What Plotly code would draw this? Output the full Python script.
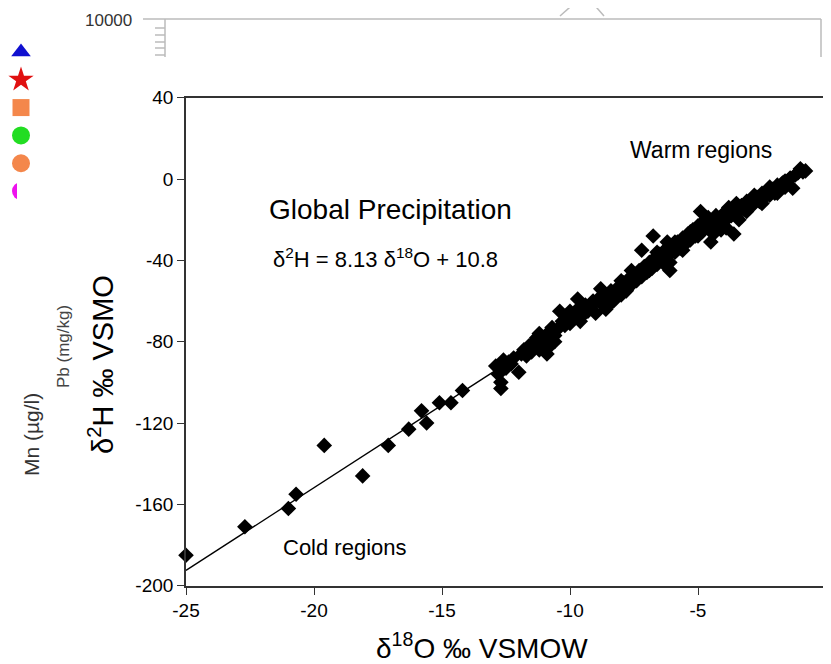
import plotly.graph_objects as go

# ---------------- data ----------------
d18O = [
    -25.0, -22.7, -21.0, -20.7, -19.6, -18.1, -17.1, -16.3, -15.8, -15.6, -15.1, -14.65, -14.2,
    -12.9, -12.8, -12.7, -12.7, -12.6, -12.5, -12.4, -12.3, -12.2, -12.0, -11.9, -11.8, -11.7,
    -11.6, -11.5, -11.4, -11.3, -11.2, -11.1, -11.0, -10.9, -10.85, -10.8, -10.7, -10.6, -10.5,
    -10.4, -10.3, -10.2, -10.1, -10.0, -9.9, -9.8, -9.7, -9.6, -9.5, -9.4, -9.3, -9.2, -9.1,
    -9.0, -8.9, -8.8, -8.7, -8.6, -8.5, -8.4, -8.3, -8.2, -8.1, -8.0, -7.9, -7.8, -7.7, -7.6,
    -7.5, -7.4, -7.3, -7.2, -7.2, -7.1, -7.0, -6.9, -6.8, -6.75, -6.7, -6.6, -6.5, -6.4, -6.3,
    -6.2, -6.1, -6.0, -5.9, -5.8, -5.7, -5.6, -5.5, -5.4, -5.3, -5.2, -5.1, -5.0, -4.9, -4.85,
    -4.8, -4.7, -4.6, -4.5, -4.4, -4.3, -4.2, -4.1, -4.0, -3.9, -3.8, -3.7, -3.6, -3.5, -3.4,
    -3.3, -3.2, -3.1, -3.0, -2.9, -2.8, -2.7, -2.6, -2.5, -2.4, -2.3, -2.2, -2.1, -2.0, -1.9,
    -1.8, -1.7, -1.6, -1.5, -1.4, -1.3, -1.2, -1.1, -1.0, -0.9, -0.8,
    -6.9, -6.6, -6.3, -5.9, -5.6, -5.3, -5.0, -4.7, -4.4, -4.1, -3.9, -3.7, -3.4, -3.1, -2.8,
    -2.5, -2.2, -1.9, -1.6, -8.8, -8.5, -9.7, -10.6, -11.2, -10.0, -7.6, -8.0, -6.2, -6.1,
]
d2H = [
    -185, -171, -162, -155, -131, -146, -131, -123, -114, -120, -110, -110, -104,
    -92, -96, -100, -103, -89, -93, -90, -91, -88, -95, -86, -84, -87,
    -82, -85, -80, -78, -76, -81, -79, -86, -83, -75, -73, -77, -74,
    -65, -70, -72, -68, -71, -69, -66, -64, -70, -67, -62, -65, -63, -60,
    -66, -59, -61, -57, -64, -58, -55, -60, -56, -53, -57, -51, -55, -49, -52,
    -47, -50, -45, -35, -48, -43, -46, -41, -44, -28, -39, -42, -37, -40, -35,
    -38, -41, -33, -36, -31, -34, -29, -32, -27, -30, -25, -28, -23, -16, -26,
    -21, -24, -19, -31, -22, -18, -21, -25, -17, -20, -14, -18, -27, -12, -16,
    -13, -15, -11, -14, -10, -12, -9, -11, -7, -9, -6, -8, -5, -7, -3,
    -5, -2, -4, -1, 0.5, -4.5, 2, 3, 5, 3.5, 4,
    -45, -36, -42, -31, -35, -26, -28, -20, -27, -19, -24, -15, -20, -16, -8,
    -12, -4, -7, -1, -54, -62, -59, -80, -84, -65, -45, -50, -31, -45,
]
slope, intercept = 8.13, 10.8
line_x = [-25.0, -1.0]
line_y = [slope * v + intercept for v in line_x]

x_ticks = [-25, -20, -15, -10, -5, 0]
y_ticks = [40, 0, -40, -80, -120, -160, -200]

# residue of a second figure's legend visible at the left edge
legend_index = [0, 1, 2, 3, 4, 5]
legend_symbols = ["triangle-up", "star", "square", "circle", "circle", "circle"]
legend_colors = ["#1010d0", "#e01010", "#f4874b", "#22dd22", "#f4874b", "#ee11ee"]

FONT = "Liberation Sans, Arial, sans-serif"
PAGE_W, PAGE_H = 831, 664
OFF = 8                       # default page margin around the figure
W, H = PAGE_W - OFF, PAGE_H - OFF
PL, PR, PT, PB = 186, 826, 97.7, 585.7   # plot-area edges in page pixels


def pxx(px):
    return (px - OFF) / W


def pyy(py):
    return (H - (py - OFF)) / H


fig = go.Figure()

fig.add_trace(go.Scatter(
    x=line_x, y=line_y, mode="lines",
    line=dict(color="black", width=1.3), showlegend=False, hoverinfo="skip",
))
fig.add_trace(go.Scatter(
    x=d18O, y=d2H, mode="markers", cliponaxis=False,
    marker=dict(symbol="diamond", size=12, color="black", line=dict(width=0)),
    showlegend=False,
))
fig.add_trace(go.Scatter(
    x=[0] * len(legend_index), y=legend_index, mode="markers", xaxis="x2", yaxis="y2",
    cliponaxis=False, showlegend=False, hoverinfo="skip",
    marker=dict(symbol=legend_symbols, size=[17, 19, 17, 18, 18, 18], color=legend_colors,
                opacity=1, line=dict(width=0)),
))

axis_common = dict(
    showgrid=False, zeroline=False, showline=True, linecolor="#333333", linewidth=1.6,
    mirror=True, ticks="outside", ticklen=7, tickwidth=1.3, tickcolor="#333333",
    tickfont=dict(family=FONT, size=19, color="black"), automargin=False,
)
fig.update_layout(
    xaxis=dict(range=[-25, 0], tickvals=x_ticks, ticktext=[str(v) for v in x_ticks],
               domain=[pxx(PL), pxx(PR)], anchor="y", **axis_common),
    yaxis=dict(range=[-200, 40], tickvals=y_ticks, ticktext=[str(v) for v in y_ticks],
               domain=[pyy(PB), pyy(PT)], anchor="x", **axis_common),
    xaxis2=dict(domain=[pxx(OFF), pxx(34)], range=[-1, 1], visible=False, anchor="y2"),
    yaxis2=dict(domain=[pyy(205), pyy(38)], range=[5.5, -0.5], visible=False, anchor="x2"),
)

annotations = [
    dict(text="Global Precipitation", x=pxx(390), y=pyy(209), font=dict(size=28)),
    dict(text="δ<sup>2</sup>H = 8.13 δ<sup>18</sup>O + 10.8", x=pxx(385), y=pyy(258), font=dict(size=22)),
    dict(text="Warm regions", x=pxx(701), y=pyy(150), font=dict(size=23)),
    dict(text="Cold regions", x=pxx(345), y=pyy(547), font=dict(size=22)),
    dict(text="δ<sup>18</sup>O ‰ VSMOW", x=pxx(482), y=pyy(646), font=dict(size=28)),
    dict(text="δ<sup>2</sup>H ‰ VSMO", x=pxx(101), y=pyy(365), font=dict(size=29), textangle=-90),
    dict(text="10000", x=pxx(108), y=pyy(20), font=dict(size=17, color="#333333")),
    dict(text="Mn (µg/l)", x=pxx(31), y=pyy(435), font=dict(size=21, color="#333333"), textangle=-90),
    dict(text="Pb (mg/kg)", x=pxx(63), y=pyy(347), font=dict(size=17, color="#444444"), textangle=-90),
]
for a in annotations:
    a.update(xref="paper", yref="paper", showarrow=False, xanchor="center", yanchor="middle")
    a["font"] = dict(family=FONT, color=a["font"].get("color", "black"), size=a["font"]["size"])

gray = dict(color="#bbbbbb", width=1.5)
shapes = [
    dict(type="line", x0=pxx(143), x1=pxx(821), y0=pyy(19), y1=pyy(19), line=gray),
    dict(type="line", x0=pxx(821), x1=pxx(821), y0=pyy(19), y1=pyy(57), line=gray),
    dict(type="line", x0=pxx(165), x1=pxx(165), y0=pyy(19), y1=pyy(57), line=gray),
    dict(type="line", x0=pxx(560), x1=pxx(578), y0=pyy(16), y1=pyy(0), line=gray),
    dict(type="line", x0=pxx(590), x1=pxx(604), y0=pyy(0), y1=pyy(16), line=gray),
    dict(type="rect", x0=pxx(17), x1=pxx(30), y0=pyy(180), y1=pyy(202),
         fillcolor="white", line=dict(width=0), layer="above"),
]
for ty in [28, 35, 42, 48, 55]:
    shapes.append(dict(type="line", x0=pxx(155), x1=pxx(165), y0=pyy(ty), y1=pyy(ty), line=gray))
for s in shapes:
    s.update(xref="paper", yref="paper")

fig.update_layout(
    width=W, height=H,
    margin=dict(l=0, r=0, t=0, b=0, autoexpand=False),
    paper_bgcolor="white", plot_bgcolor="white",
    annotations=annotations, shapes=shapes,
    showlegend=False,
    font=dict(family=FONT),
)

fig.write_html("out.html")
